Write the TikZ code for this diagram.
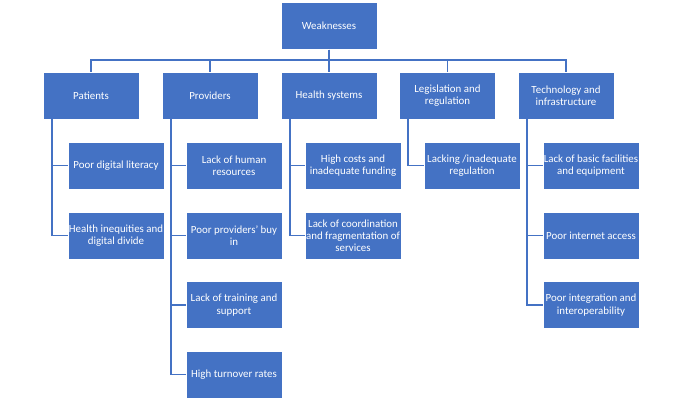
\documentclass[tikz,border=0pt]{standalone}
\usepackage{fontspec}
\setmainfont{Carlito}
\definecolor{obl}{HTML}{4472C4}
\begin{document}
\begin{tikzpicture}[x=1pt,y=1pt,
  box/.style={fill=obl, draw=white, line width=0.6pt, text=white, minimum width=96pt, minimum height=47pt, inner sep=0pt, align=center, font=\fontsize{10.9}{12.2}\selectfont},
  conn/.style={draw=obl, line width=1.6pt}]
\useasboundingbox (0,0) rectangle (682,-402);
\node[box] (w) at (329,-26) {Weaknesses};
% level 1
\node[box] (pa) at (91,-95.5) {Patients};
\node[box] (pr) at (210,-95.5) {Providers};
\node[box] (hs) at (329,-95.5) {Health systems};
\node[box] (lr) at (447.5,-95.5) {Legislation and\\regulation};
\node[box] (ti) at (566,-95.5) {Technology and\\infrastructure};
% level 2
\node[box] (pa1) at (116,-165.5) {Poor digital literacy};
\node[box] (pa2) at (116,-235.5) {Health inequities and\\digital divide};
\node[box] (pr1) at (234,-165.5) {Lack of human\\resources};
\node[box] (pr2) at (234,-235.5) {Poor providers' buy\\in};
\node[box] (pr3) at (234,-305) {Lack of training and\\support};
\node[box] (pr4) at (234,-374.5) {High turnover rates};
\node[box] (hs1) at (353,-165.5) {High costs and\\inadequate funding};
\node[box] (hs2) at (353,-235.5) {Lack of coordination\\and fragmentation of\\services};
\node[box] (lr1) at (472,-165.5) {Lacking /inadequate\\regulation};
\node[box] (ti1) at (591,-165.5) {Lack of basic facilities\\and equipment};
\node[box] (ti2) at (591,-235.5) {Poor internet access};
\node[box] (ti3) at (591,-305) {Poor integration and\\interoperability};
% bus
\coordinate (bus) at (329,-60);
\foreach \p in {pa,pr,hs,lr,ti}
  \draw[conn] (w.south) -- (w.south |- bus) -| (\p.north);
% children
\foreach \p/\c in {pa/pa1,pa/pa2,pr/pr1,pr/pr2,pr/pr3,pr/pr4,hs/hs1,hs/hs2,lr/lr1,ti/ti1,ti/ti2,ti/ti3}
  \draw[conn] ([xshift=9pt]\p.south west) |- (\c.west);
\end{tikzpicture}
\end{document}
